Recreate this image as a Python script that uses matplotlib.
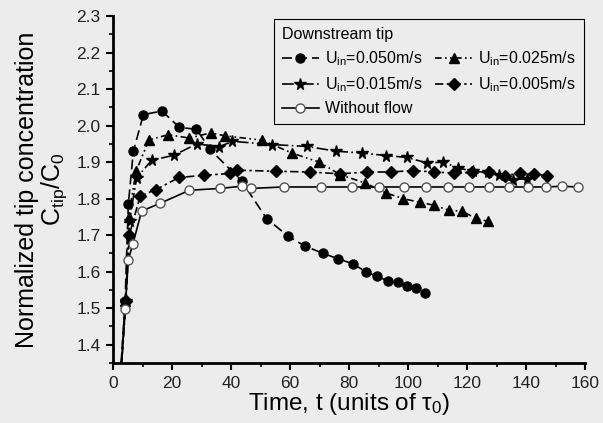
import matplotlib
matplotlib.use("Agg")
import matplotlib.pyplot as plt
from matplotlib.ticker import MultipleLocator

plt.rcParams["font.family"] = ["Liberation Sans", "DejaVu Sans"]
plt.rcParams["mathtext.fontset"] = "custom"
plt.rcParams["mathtext.rm"] = "Liberation Sans"
plt.rcParams["mathtext.it"] = "Liberation Sans"

BG = "#ececec"

# series start at (0, 1.0); that point sits below the axis and is clipped
t_050 = [0, 4.1, 5.2, 6.9, 10.3, 16.6, 22.5, 28.3, 32.9, 43.6, 52.1, 59.4, 65.1,
         71.3, 76.4, 81.2, 85.7, 89.6, 93.1, 96.5, 99.8, 102.7, 105.8]
c_050 = [1.0, 1.52, 1.785, 1.93, 2.03, 2.04, 1.995, 1.99, 1.935, 1.848, 1.745, 1.697, 1.67,
         1.65, 1.635, 1.622, 1.60, 1.587, 1.575, 1.572, 1.562, 1.555, 1.543]

t_025 = [0, 4.2, 5.3, 7.8, 12.2, 18.7, 25.8, 33.1, 38.0, 50.6, 60.6, 69.9, 76.9,
         85.4, 92.4, 98.4, 104.0, 108.8, 113.9, 118.2, 123.0, 127.0]
c_025 = [1.0, 1.52, 1.75, 1.875, 1.961, 1.975, 1.966, 1.98, 1.972, 1.96, 1.925, 1.90, 1.866,
         1.843, 1.816, 1.80, 1.79, 1.782, 1.768, 1.766, 1.746, 1.738]

t_015 = [0, 4.3, 5.6, 8.0, 13.1, 20.7, 28.4, 36.0, 40.5, 54.0, 65.7, 75.6, 84.3,
         92.5, 99.5, 106.3, 112.0, 117.0, 121.9, 127.0, 131.0, 135.7, 140.2]
c_015 = [1.0, 1.52, 1.74, 1.857, 1.905, 1.919, 1.95, 1.942, 1.957, 1.948, 1.943, 1.93, 1.925,
         1.918, 1.913, 1.898, 1.90, 1.884, 1.875, 1.872, 1.865, 1.852, 1.855]

t_005 = [0, 4.4, 5.5, 9.2, 14.6, 22.4, 31.0, 39.7, 41.9, 55.1, 66.8, 76.9, 86.2,
         94.1, 101.8, 108.8, 115.6, 121.6, 127.6, 132.9, 138.0, 142.8, 147.2]
c_005 = [1.0, 1.52, 1.70, 1.807, 1.825, 1.858, 1.864, 1.869, 1.878, 1.875, 1.873, 1.868, 1.873,
         1.873, 1.877, 1.873, 1.87, 1.872, 1.872, 1.863, 1.87, 1.868, 1.863]

t_nf = [0, 4.1, 5.2, 6.7, 9.7, 15.9, 25.9, 36.3, 43.6, 46.7, 57.8, 70.4, 80.9,
        90.3, 98.6, 106.1, 113.7, 120.8, 127.5, 134.3, 140.6, 146.8, 152.1, 157.5]
c_nf = [1.0, 1.497, 1.633, 1.675, 1.766, 1.787, 1.823, 1.828, 1.834, 1.828, 1.832, 1.832, 1.832,
        1.832, 1.832, 1.832, 1.832, 1.832, 1.832, 1.832, 1.832, 1.832, 1.834, 1.832]

fig = plt.figure(figsize=(6.03, 4.23), dpi=100, facecolor=BG)
ax = fig.add_axes([0.1874, 0.1418, 0.7828, 0.8203], facecolor=BG)

h050, = ax.plot(t_050, c_050, color="black", lw=1.2, ls=(0, (6, 3)), marker="o", ms=6.5,
                label="U$_{\\rm in}$=0.050m/s")
h025, = ax.plot(t_025, c_025, color="black", lw=1.2, ls=(0, (4, 2, 1, 2, 1, 2)), marker="^", ms=7,
                label="U$_{\\rm in}$=0.025m/s")
h015, = ax.plot(t_015, c_015, color="black", lw=1.2, ls=(0, (7, 2, 1, 2)), marker="*", ms=8.5,
                label="U$_{\\rm in}$=0.015m/s")
h005, = ax.plot(t_005, c_005, color="black", lw=1.2, ls=(0, (5, 2, 1.5, 2)), marker="D", ms=6,
                label="U$_{\\rm in}$=0.005m/s")
hnf, = ax.plot(t_nf, c_nf, color="black", lw=1.2, ls="-", marker="o", ms=6.5, mfc="white",
               mec="#555555", label="Without flow")

ax.set_xlim(0, 160)
ax.set_ylim(1.35, 2.3)
ax.xaxis.set_major_locator(MultipleLocator(20))
ax.xaxis.set_minor_locator(MultipleLocator(10))
ax.yaxis.set_minor_locator(MultipleLocator(0.05))
ax.set_yticks([1.4, 1.5, 1.6, 1.7, 1.8, 1.9, 2.0, 2.1, 2.2, 2.3])

for side in ("top", "right"):
    ax.spines[side].set_visible(False)
for side in ("left", "bottom"):
    ax.spines[side].set_linewidth(2)
ax.tick_params(which="major", direction="out", length=5, width=1.5, labelsize=12.5,
               labelcolor="#222222", pad=4)
ax.tick_params(which="minor", direction="out", length=3, width=1.2)

ax.set_xlabel("Time, t (units of $\\tau_0$)", fontsize=17.5, labelpad=0)
ax.set_ylabel("Normalized tip concentration\nC$_{\\rm tip}$/C$_0$", fontsize=18,
              labelpad=5, linespacing=1.0)

leg = ax.legend(handles=[h050, h015, hnf, h025, h005], ncol=2, title="Downstream tip",
                loc="upper left", bbox_to_anchor=(0.341, 0.991), borderaxespad=0,
                fontsize=11.5, title_fontsize=11.5, alignment="left", fancybox=False,
                edgecolor="black", facecolor=BG, framealpha=1, handlelength=2.3,
                handletextpad=0.4, columnspacing=0.8, labelspacing=0.45,
                borderpad=0.5)
leg.get_frame().set_linewidth(0.8)

fig.savefig("out.png", dpi=100, facecolor=BG)
